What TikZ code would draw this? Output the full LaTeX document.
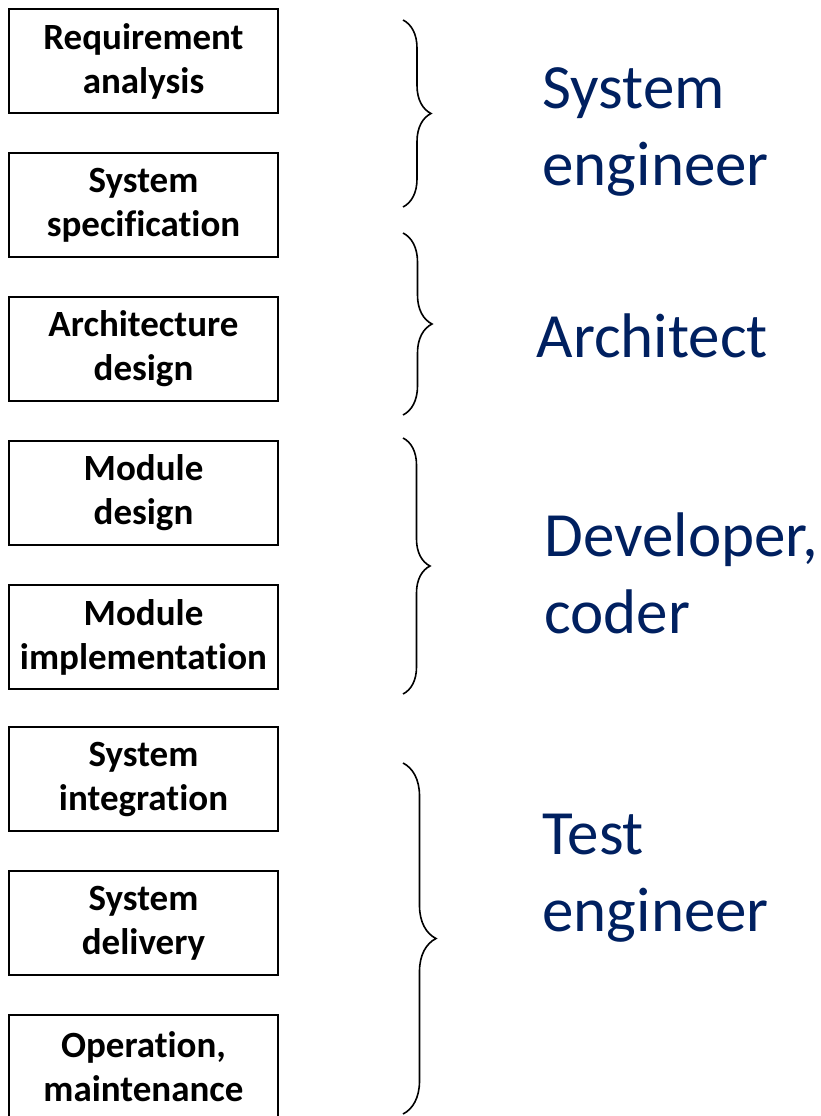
\documentclass[tikz,border=0pt]{standalone}
\usepackage{fontspec}
\setmainfont{Carlito}[Ligatures=NoCommon]
\usetikzlibrary{decorations.pathreplacing}
\definecolor{rolecolor}{HTML}{002060}
\tikzset{
  phase/.style={draw, line width=1.2pt, minimum width=269pt, minimum height=104pt,
    inner sep=0pt, align=center, font=\bfseries\fontsize{37}{44}\selectfont},
  role/.style={anchor=base west, align=left, text=rolecolor,
    font=\fontsize{63}{77}\selectfont},
  curly/.style={decorate, decoration={brace, amplitude=#1}, line width=1.6pt},
}
\begin{document}
\begin{tikzpicture}[x=1pt,y=-1pt]
  \useasboundingbox (0,0) rectangle (821,1116);
  % phases
  \foreach \name/\txt/\y in {req/Requirement\\analysis/61, spec/System\\specification/205,
      arch/Architecture\\design/349, mod/Module\\design/493, impl/Module\\implementation/637,
      integ/System\\integration/779, deliv/System\\delivery/923, op/{Operation,\\maintenance}/1067}
    \node[phase] (\name) at (143.5,\y) {\txt};
  % braces
  \coordinate (sysT) at (403,20);   \coordinate (sysB) at (403,207);
  \coordinate (archT) at (403,233); \coordinate (archB) at (403,415);
  \coordinate (devT) at (403,438);  \coordinate (devB) at (403,694);
  \coordinate (testT) at (403,763); \coordinate (testB) at (403,1114);
  \draw[curly=28pt] (sysT) -- (sysB);
  \draw[curly=29pt] (archT) -- (archB);
  \draw[curly=27pt] (devT) -- (devB);
  \draw[curly=33pt] (testT) -- (testB);
  % roles (base = last line)
  \node[role] (syseng) at (539,185) {System\\engineer};
  \node[role] (architect) at (533,357) {Architect};
  \node[role] (developer) at (541,633) {Developer,\\coder};
  \node[role] (tester) at (539,931) {Test\\engineer};
\end{tikzpicture}
\end{document}
